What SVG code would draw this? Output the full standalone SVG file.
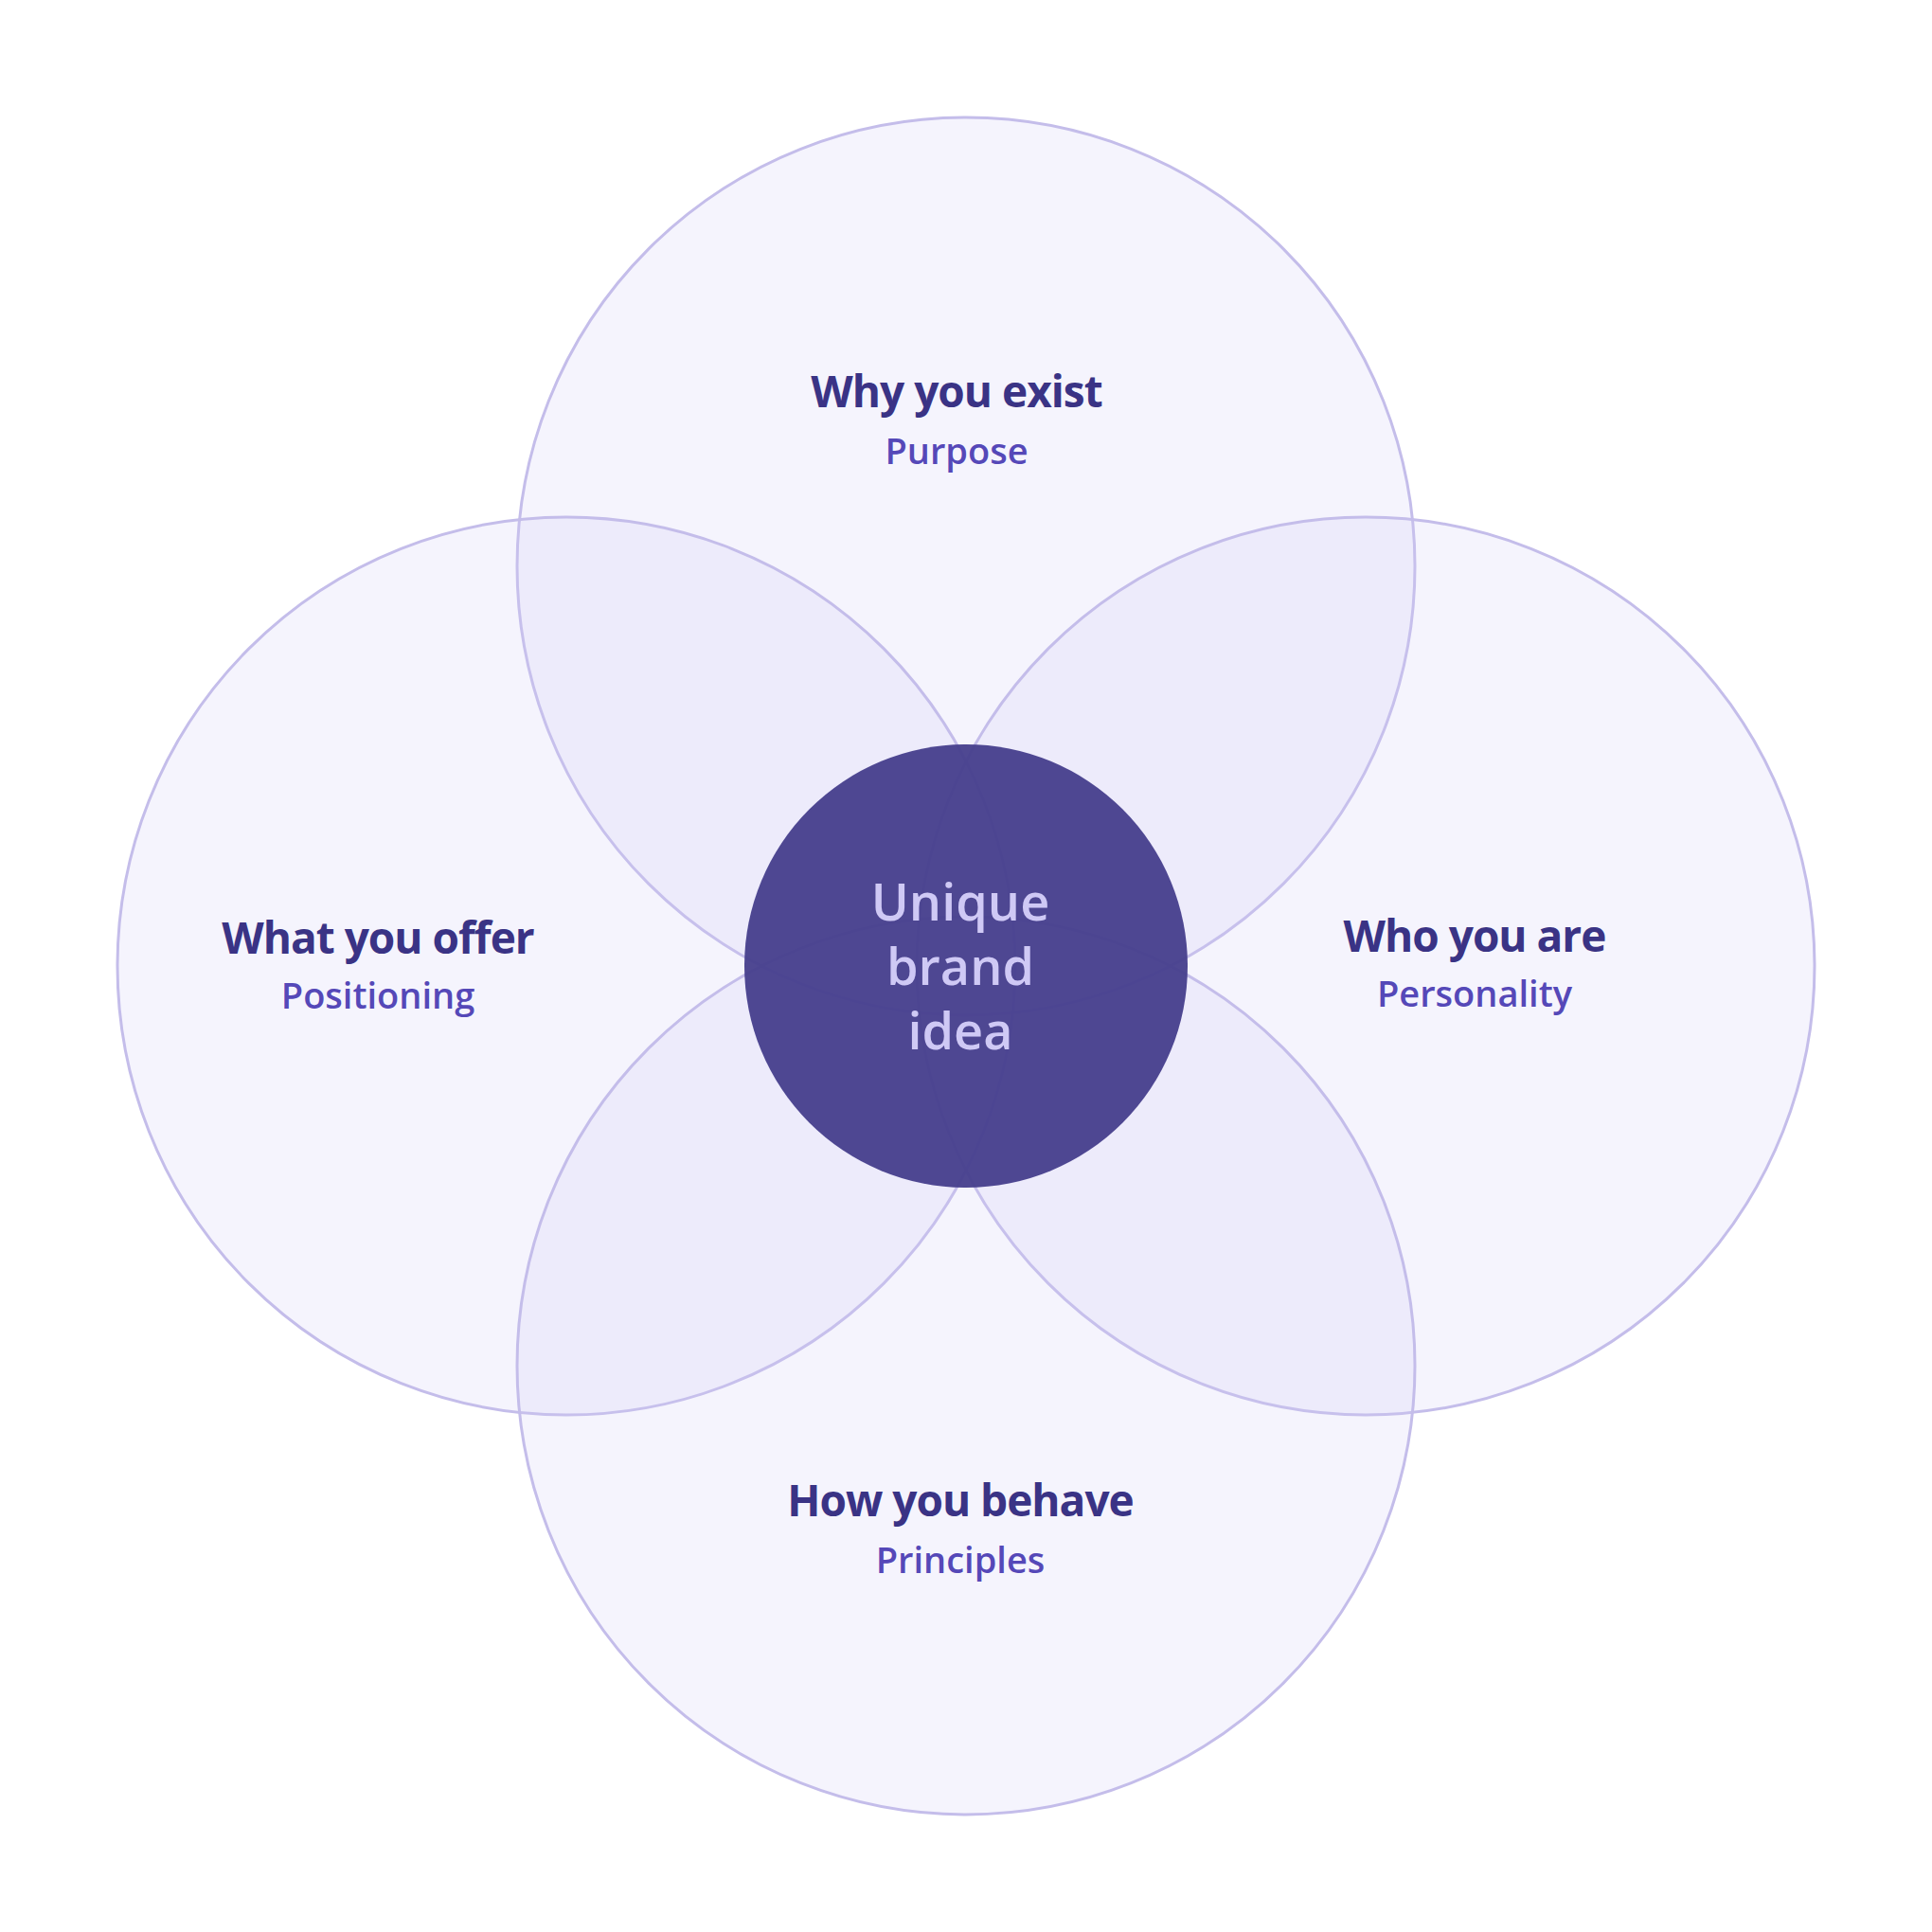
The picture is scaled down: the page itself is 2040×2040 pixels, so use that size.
<svg xmlns="http://www.w3.org/2000/svg" width="2040" height="2040" viewBox="0 0 2040 2040">
<style>
.c{fill:#d0cbf7;fill-opacity:0.22;stroke:#c4bdea;stroke-width:3}
.t{font-family:"Open Sans","Liberation Sans",sans-serif;font-weight:700;font-size:46px;fill:#3a3385;text-anchor:middle;letter-spacing:-1px}
.s{font-family:"Open Sans","Liberation Sans",sans-serif;font-weight:600;font-size:38px;fill:#5548b8;text-anchor:middle}
.m{font-family:"Open Sans","Liberation Sans",sans-serif;font-weight:600;font-size:54px;fill:#cfc9f5;text-anchor:middle}
</style>
<rect width="2040" height="2040" fill="#fff"/>
<g id="top"><circle class="c" cx="1020" cy="598" r="474"/><text class="t" x="1010" y="430">Why you exist</text><text class="s" x="1010" y="490">Purpose</text></g>
<g id="left"><circle class="c" cx="598" cy="1020" r="474"/><text class="t" x="399" y="1007">What you offer</text><text class="s" x="399" y="1065">Positioning</text></g>
<g id="right"><circle class="c" cx="1442" cy="1020" r="474"/><text class="t" x="1557" y="1005">Who you are</text><text class="s" x="1557" y="1063">Personality</text></g>
<g id="bottom"><circle class="c" cx="1020" cy="1442" r="474"/><text class="t" x="1014" y="1601">How you behave</text><text class="s" x="1014" y="1661">Principles</text></g>
<g id="center"><circle cx="1020" cy="1020" r="234" fill="#463e8c" fill-opacity="0.95"/>
<text class="m" x="1014" y="972">Unique</text><text class="m" x="1014" y="1040">brand</text><text class="m" x="1014" y="1108">idea</text></g>
<g id="connectors"/>
</svg>
